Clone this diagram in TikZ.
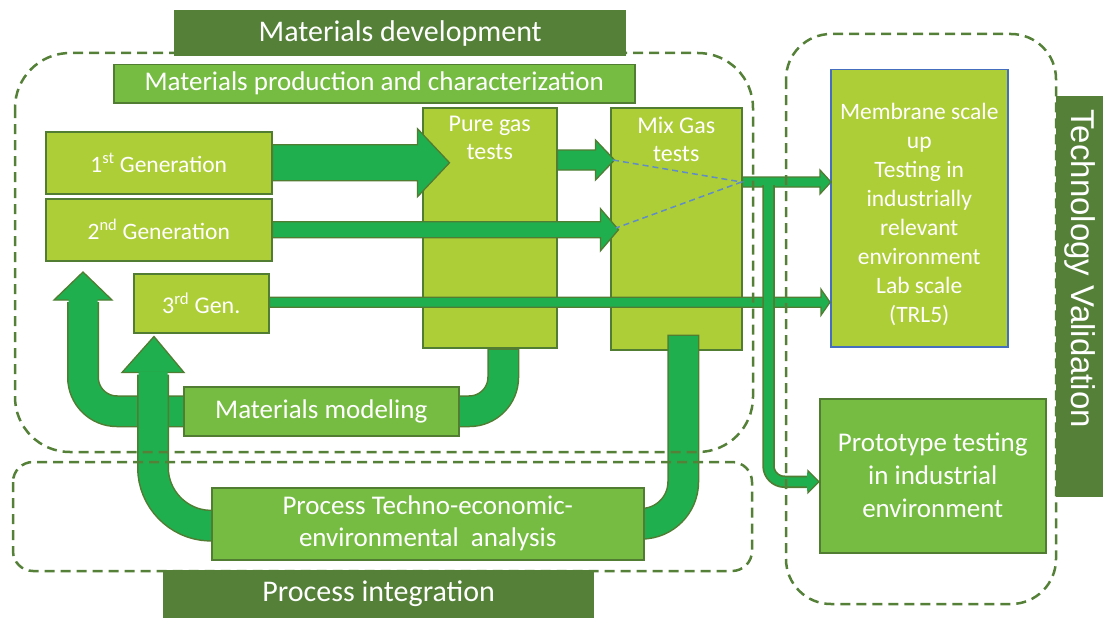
\documentclass[tikz,border=0pt]{standalone}
\usepackage{fontspec}
\setmainfont{Carlito}
\newfontfamily\tvfont{Liberation Sans}
\usetikzlibrary{calc}
\definecolor{dkgreen}{RGB}{84,128,56}
\definecolor{olive}{RGB}{80,125,50}
\definecolor{ygreen}{RGB}{174,206,56}
\definecolor{mgreen}{RGB}{118,188,67}
\definecolor{agreen}{RGB}{32,175,78}
\definecolor{dashc}{RGB}{84,128,56}
\definecolor{bluedash}{RGB}{95,140,200}
\definecolor{bluebd}{RGB}{70,110,190}
\pgfdeclarelayer{boxes}
\pgfdeclarelayer{arrows}
\pgfdeclarelayer{fg}
\pgfsetlayers{boxes,arrows,main,fg}
\tikzset{
  lblbox/.style={fill=dkgreen, text=white, inner sep=0pt, anchor=north west},
  ybox/.style={draw=olive, fill=ygreen, line width=1.5pt, text=white, inner sep=0pt, anchor=north west, align=center},
  mbox/.style={draw=olive, fill=mgreen, line width=1.5pt, text=white, inner sep=0pt, anchor=north west, align=center},
  dashbox/.style={draw=dashc, line width=2.5pt, dash pattern=on 10pt off 6pt},
  barrow/.style={draw=olive, fill=agreen, line width=1.3pt, line join=miter},
  shaftout/.style={draw=olive, line cap=butt},
  shaftin/.style={draw=agreen, line cap=butt},
}
\begin{document}
\begin{tikzpicture}[x=1pt,y=-1pt]
\useasboundingbox (0,0) rectangle (1103,618);

\begin{pgfonlayer}{boxes}
\node[ybox, minimum width=226pt, minimum height=62pt, font=\fontsize{23.5}{26}\selectfont] (g1) at (45,131) {1\textsuperscript{st} Generation};
\node[ybox, minimum width=226pt, minimum height=62pt, font=\fontsize{23.5}{26}\selectfont] (g2) at (45,198) {2\textsuperscript{nd} Generation};
\node[ybox, minimum width=135pt, minimum height=59pt, font=\fontsize{24}{26}\selectfont] (g3) at (133,273) {3\textsuperscript{rd} Gen.};
\node[ybox, minimum width=134pt, minimum height=240pt,
  label={[anchor=north, text=white, align=center, font=\fontsize{24}{28}\selectfont, yshift=-6pt]north:{Pure gas\\tests}}] (pure) at (422,107) {};
\node[ybox, minimum width=131pt, minimum height=242pt,
  label={[anchor=north, text=white, align=center, font=\fontsize{24}{28}\selectfont, yshift=-6pt]north:{Mix Gas\\tests}}] (mix) at (610,107) {};
\node[ybox, draw=bluebd, minimum width=177pt, minimum height=277pt,
  label={[anchor=center, text=white, align=center, font=\fontsize{23.5}{29}\selectfont, yshift=-6pt]center:{Membrane scale\\up\\Testing in\\industrially\\relevant\\environment\\Lab scale\\(TRL5)}}] (mem) at (830,69) {};
\node[mbox, minimum width=226pt, minimum height=154pt, font=\fontsize{27}{33}\selectfont] (proto) at (819,398) {Prototype testing\\in industrial\\environment};
\node[mbox, minimum width=521pt, minimum height=38pt, font=\fontsize{27}{30}\selectfont] (prod) at (113,64) {Materials production and characterization};
\end{pgfonlayer}

\node[mbox, minimum width=275pt, minimum height=49pt, font=\fontsize{27}{30}\selectfont] (model) at (183,386) {Materials modeling};
\node[mbox, minimum width=432pt, minimum height=72pt, font=\fontsize{27}{32}\selectfont] (proc) at (211,487) {Process Techno-economic-\\environmental\ \ analysis};

\begin{pgfonlayer}{arrows}
% 1st gen -> pure gas
\draw[barrow] ($(g1.east)+(0,-18)$) -- ++(145,0) -- ++(0,-16) -- ++(32,34) -- ++(-32,34) -- ++(0,-16) -- ($(g1.east)+(0,18)$) -- cycle;
% pure gas -> mix gas
\coordinate (pm) at ($(pure.north east)+(0,53)$);
\draw[barrow] ($(pm)+(0,-10)$) -- ++(38,0) -- ++(0,-10) -- ++(19,20) -- ++(-19,20) -- ++(0,-10) -- ($(pm)+(0,10)$) -- cycle;
% 2nd gen -> mix gas
\draw[barrow] ($(g2.east)+(0,-8)$) -- ++(328,0) -- ++(0,-13) -- ++(18,21) -- ++(-18,21) -- ++(0,-13) -- ($(g2.east)+(0,8)$) -- cycle;
% 3rd gen -> membrane
\coordinate (t3) at ($(g3.east)+(0,-1)$);
\draw[barrow] ($(t3)+(0,-5)$) -- ($(mem.west |- t3)+(-9,-5)$) -- ++(0,-8) -- (mem.west |- t3) -- ($(mem.west |- t3)+(-9,13)$) -- ++(0,-8) -- ($(t3)+(0,5)$) -- cycle;
% mix -> membrane
\coordinate (j) at ($(mix.north east)+(0,75)$);
\coordinate (jb) at ($(j)+(26,0)$);
\draw[barrow] ($(j)+(0,-5)$) -- ($(mem.west |- j)+(-10,-5)$) -- ++(0,-7) -- ($(mem.west |- j)+(1,0)$) -- ($(mem.west |- j)+(-10,12)$) -- ++(0,-7) -- ($(j)+(0,5)$) -- cycle;
% branch to prototype
\coordinate (pb) at ($(proto.west)+(-11,6)$);
\draw[shaftout, line width=12.5pt, rounded corners=16pt] ($(jb)+(0,3)$) -- (jb |- pb) -- ($(pb)+(1,0)$);
\draw[barrow] ($(pb)+(0,-11)$) -- ++(11,11) -- ++(-11,11) -- cycle;
\draw[shaftin, line width=9pt, rounded corners=16pt] ($(jb)+(0,1)$) -- (jb |- pb) -- ($(pb)+(1,0)$);
\fill[agreen] ($(pb)+(-1,-9.5)$) -- ($(pb)+(9.5,0)$) -- ($(pb)+(-1,9.5)$) -- cycle;
% materials modeling loop
\coordinate (ms) at ($(pure.south)+(13.5,0)$);
\coordinate (mh) at (83,300);
\draw[shaftout, line width=32pt, rounded corners=34pt] (ms) -- (ms |- model.west) -- (mh |- model.west) -- ($(mh)+(0,2)$);
\draw[barrow] ($(mh)+(-29,0)$) -- ($(mh)+(0,-28)$) -- ($(mh)+(29,0)$) -- cycle;
\draw[shaftin, line width=29pt, rounded corners=34pt] ($(ms)+(0,1.5)$) -- (ms |- model.west) -- (mh |- model.west) -- ($(mh)+(0,-1)$);
% process loop right
\coordinate (ps) at ($(mix.south)+(7,-16)$);
\draw[shaftout, line width=32pt, rounded corners=42pt] (ps) -- (ps |- proc.east) -- ($(proc.east)+(-2,0)$);
\draw[shaftin, line width=29pt, rounded corners=42pt] ($(ps)+(0,1.5)$) -- (ps |- proc.east) -- ($(proc.east)+(-2,0)$);
% process loop left
\coordinate (ph) at ($(g3.south west)+(20,39)$);
\draw[shaftout, line width=32pt, rounded corners=56pt] ($(proc.west)+(2,2)$) -- (ph |- proc.west) -- ($(ph)+(0,2)$);
\draw[barrow] ($(ph)+(-31,0)$) -- ($(ph)+(1,-36)$) -- ($(ph)+(31,0)$) -- cycle;
\draw[shaftin, line width=29pt, rounded corners=56pt] ($(proc.west)+(2,2)$) -- (ph |- proc.west) -- ($(ph)+(0,-1)$);
\end{pgfonlayer}

\begin{pgfonlayer}{fg}
\draw[bluedash, line width=1.5pt, dash pattern=on 6pt off 4pt] (613,160) -- ($(j)+(-1,0)$) -- (616,228);
\draw[dashbox, rounded corners=55pt] (15,53) rectangle (753,452);
\draw[dashbox, rounded corners=20pt] (13,462) rectangle (752,571);
\draw[dashbox, rounded corners=45pt] (786,34) rectangle (1056,604);
\node[lblbox, minimum width=452pt, minimum height=46pt, font=\fontsize{30}{34}\selectfont] (md) at (174,10) {Materials development};
\node[lblbox, minimum width=431pt, minimum height=48pt, font=\fontsize{30}{34}\selectfont] (pi) at (163,570) {Process integration};
\node[lblbox, minimum width=47pt, minimum height=401pt] (tvbox) at (1056,96) {};
\node[text=white, rotate=-90, font=\tvfont\fontsize{33}{36}\selectfont] (tv) at ($(tvbox.center)+(0,-28)$) {Technology Validation};
\end{pgfonlayer}
\end{tikzpicture}
\end{document}
